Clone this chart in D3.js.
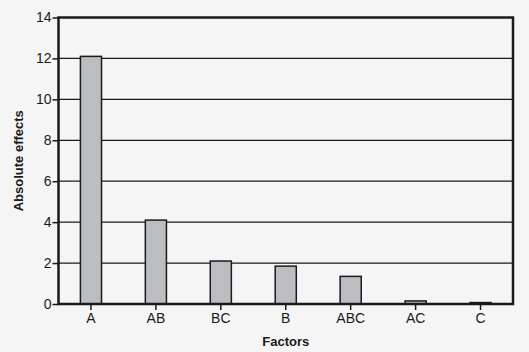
<!DOCTYPE html>
<html>

<head>
  <meta charset="utf8">
  <script src="https://d3js.org/d3.v7.min.js"></script>
  <style>
    body { margin: 0; background: #f5f5f5; }
    text { font-family: "Liberation Sans", Arial, sans-serif; fill: #1a1a1a; }
    .axis text { font-size: 14px; }
    .axis .domain { display: none; }
    .axis line { stroke: #1a1a1a; }
  </style>
</head>

<body>
  <svg id="chart" width="529" height="352"></svg>

  <script>
    var factors = ['A', 'AB', 'BC', 'B', 'ABC', 'AC', 'C'];
    var effects = [12.1, 4.1, 2.1, 1.85, 1.35, 0.15, 0.07];
    var yTicks = [0, 2, 4, 6, 8, 10, 12, 14];

    var chart = d3.select('#chart');
    var margin = { top: 17.5, right: 16, bottom: 48, left: 58.5 };
    var width = 529 - margin.left - margin.right;
    var height = 352 - margin.top - margin.bottom;

    chart.append('rect')
      .attr('width', 529).attr('height', 352).attr('fill', '#f5f5f5');

    var x = d3.scaleBand()
      .range([0, width])
      .domain(factors)
      .paddingInner(0.675)
      .paddingOuter(0.3375);

    var y = d3.scaleLinear()
      .range([height, 0])
      .domain([0, 14]);

    var group = chart.append('g')
      .attr('transform', 'translate(' + margin.left + ', ' + margin.top + ')');

    // gridlines
    group.selectAll('line.grid')
      .data(yTicks.slice(1, -1))
      .enter()
      .append('line')
      .attr('class', 'grid')
      .attr('x1', 0).attr('x2', width)
      .attr('y1', (d) => y(d)).attr('y2', (d) => y(d))
      .attr('stroke', '#1a1a1a')
      .attr('stroke-width', 1.2);

    group.selectAll('rect.bar')
      .data(factors)
      .enter()
      .append('rect')
      .attr('class', 'bar')
      .attr('x', (d) => x(d))
      .attr('y', (d, i) => y(effects[i]))
      .attr('width', x.bandwidth())
      .attr('height', (d, i) => height - y(effects[i]))
      .attr('fill', '#bcbdc1')
      .attr('stroke', '#1a1a1a')
      .attr('stroke-width', 1.5);

    group.append('g')
      .attr('class', 'axis x-axis')
      .attr('transform', 'translate(0, ' + height + ')')
      .call(d3.axisBottom(x).tickSize(6).tickPadding(3))
      .selectAll('line').attr('stroke-width', 1.5);

    group.append('g')
      .attr('class', 'axis y-axis')
      .call(d3.axisLeft(y).tickValues(yTicks).tickSize(6).tickPadding(1))
      .selectAll('line').attr('stroke-width', 1.5);

    // frame
    group.append('rect')
      .attr('width', width)
      .attr('height', height)
      .attr('fill', 'none')
      .attr('stroke', '#1a1a1a')
      .attr('stroke-width', 2.5);

    chart.append('text')
      .attr('x', margin.left + width / 2)
      .attr('y', 346)
      .attr('text-anchor', 'middle')
      .attr('font-size', 13)
      .attr('font-weight', 'bold')
      .text('Factors');

    chart.append('text')
      .attr('transform', 'translate(23, ' + (margin.top + height / 2) + ') rotate(-90)')
      .attr('text-anchor', 'middle')
      .attr('font-size', 13)
      .attr('font-weight', 'bold')
      .text('Absolute effects');
  </script>
</body>

</html>
